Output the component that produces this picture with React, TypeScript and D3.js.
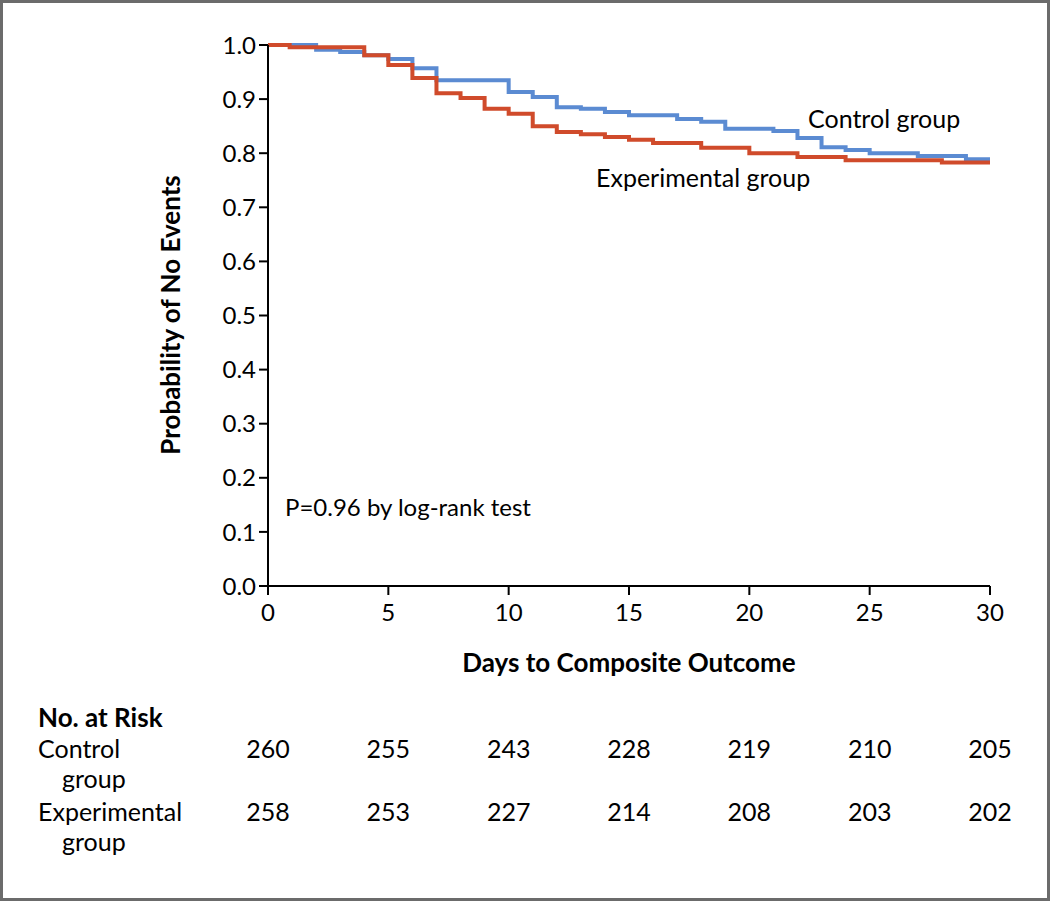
import React from "react";
import * as d3 from "d3";

const controlTimes = [0, 2, 3, 4, 5, 6, 7, 10, 11, 12, 13, 14, 15, 17, 18, 19, 21, 22, 23, 24, 25, 27, 29];
const controlSurv = [1.0, 0.991, 0.987, 0.981, 0.974, 0.957, 0.935, 0.913, 0.904, 0.885, 0.882, 0.876, 0.870, 0.863, 0.858, 0.845, 0.841, 0.828, 0.811, 0.806, 0.800, 0.795, 0.789];

const expTimes = [0, 0.9, 4, 5, 6, 7, 8, 9, 10, 11, 12, 13, 14, 15, 16, 18, 20, 22, 24, 28];
const expSurv = [1.0, 0.996, 0.981, 0.963, 0.939, 0.911, 0.902, 0.882, 0.873, 0.850, 0.839, 0.835, 0.830, 0.825, 0.819, 0.810, 0.800, 0.793, 0.787, 0.783];

const xTicks = [0, 5, 10, 15, 20, 25, 30];
const yTicks = [0, 0.1, 0.2, 0.3, 0.4, 0.5, 0.6, 0.7, 0.8, 0.9, 1.0];
const riskControl = [260, 255, 243, 228, 219, 210, 205];
const riskExp = [258, 253, 227, 214, 208, 203, 202];

const W = 1050;
const H = 901;
const FONT = "Lato, 'Open Sans', sans-serif";
const BLUE = "#5b8bd2";
const RED = "#d04b2b";
const FS = 24;
const FSB = 26;

export default function App() {
  const x = d3.scaleLinear().domain([0, 30]).range([268, 990]);
  const y = d3.scaleLinear().domain([0, 1]).range([586, 45]);

  const line = d3
    .line<[number, number]>()
    .x((d) => x(d[0]))
    .y((d) => y(d[1]))
    .curve(d3.curveStepAfter);

  const ctrlPts: [number, number][] = controlTimes.map((t, i) => [t, controlSurv[i]]);
  ctrlPts.push([30, controlSurv[controlSurv.length - 1]]);
  const expPts: [number, number][] = expTimes.map((t, i) => [t, expSurv[i]]);
  expPts.push([30, expSurv[expSurv.length - 1]]);

  return (
    <svg
      width={W}
      height={H}
      style={{ position: "absolute", left: 0, top: 0, fontFamily: FONT }}
    >
      <rect x={0} y={0} width={W} height={H} fill="#fff" />
      <rect x={1.5} y={1.5} width={W - 3} height={H - 3} fill="none" stroke="#6b6b6b" strokeWidth={3} />

      {/* curves */}
      <path d={line(ctrlPts) || ""} fill="none" stroke={BLUE} strokeWidth={4} />
      <path d={line(expPts) || ""} fill="none" stroke={RED} strokeWidth={4} />

      {/* axes */}
      <line x1={x(0)} x2={x(0)} y1={y(1)} y2={y(0) + 9} stroke="#000" strokeWidth={2} />
      <line x1={x(0) - 9} x2={x(30)} y1={y(0)} y2={y(0)} stroke="#000" strokeWidth={2} />
      {yTicks.map((t) => (
        <g key={"y" + t}>
          <line x1={x(0) - 9} x2={x(0)} y1={y(t)} y2={y(t)} stroke="#000" strokeWidth={2} />
          <text x={x(0) - 12} y={y(t)} dy="0.36em" textAnchor="end" fontSize={FS}>
            {t.toFixed(1)}
          </text>
        </g>
      ))}
      {xTicks.map((t) => (
        <g key={"x" + t}>
          <line x1={x(t)} x2={x(t)} y1={y(0)} y2={y(0) + 9} stroke="#000" strokeWidth={2} />
          <text x={x(t)} y={621} textAnchor="middle" fontSize={FS}>
            {t}
          </text>
        </g>
      ))}

      <text
        transform={`translate(180,315) rotate(-90)`}
        textAnchor="middle"
        fontSize={FSB}
        fontWeight="bold"
      >
        Probability of No Events
      </text>
      <text x={629} y={672} textAnchor="middle" fontSize={FSB} fontWeight="bold">
        Days to Composite Outcome
      </text>

      <text x={285} y={516} fontSize={FS}>P=0.96 by log-rank test</text>
      <text x={808} y={128} fontSize={FS + 1}>Control group</text>
      <text x={596} y={187} fontSize={FS + 1}>Experimental group</text>

      {/* risk table */}
      <text x={38} y={727} fontSize={FSB} fontWeight="bold">No. at Risk</text>
      <text x={38} y={758} fontSize={FS + 1}>Control</text>
      <text x={62} y={788} fontSize={FS + 1}>group</text>
      <text x={38} y={821} fontSize={FS + 1}>Experimental</text>
      <text x={62} y={851} fontSize={FS + 1}>group</text>
      {xTicks.map((t, i) => (
        <g key={"r" + t}>
          <text x={x(t)} y={758} textAnchor="middle" fontSize={FS + 1}>{riskControl[i]}</text>
          <text x={x(t)} y={821} textAnchor="middle" fontSize={FS + 1}>{riskExp[i]}</text>
        </g>
      ))}
    </svg>
  );
}
